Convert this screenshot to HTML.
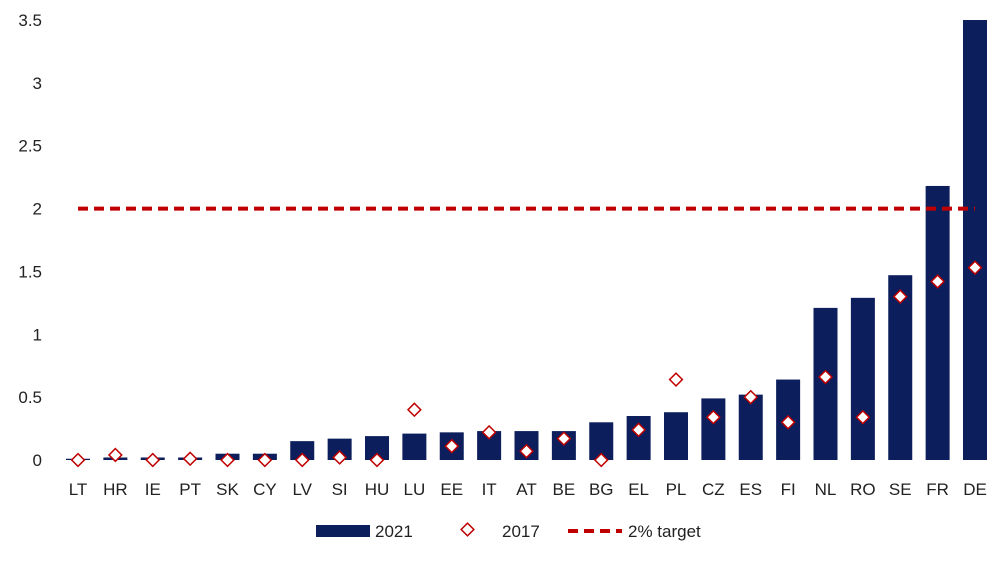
<!DOCTYPE html>
<html><head><meta charset="utf-8"><style>
body{margin:0;background:#fff;font-family:"Liberation Sans",Arial,sans-serif;}
svg text{font-family:"Liberation Sans",Arial,sans-serif;font-size:17px;fill:#222;}
</style></head><body>
<svg id="chart" width="1002" height="567" viewBox="0 0 1002 567" xmlns="http://www.w3.org/2000/svg">
<g id="yaxis"></g>
<g id="bars"></g>
<g id="target"></g>
<g id="points"></g>
<g id="xaxis"></g>
<g>
<rect x="316" y="525" width="54" height="12" fill="#0c1f5c"/>
<text x="375" y="537">2021</text>
<rect x="463" y="525" width="9" height="9" fill="#fff" stroke="#c00000" stroke-width="1.5" transform="rotate(45 467.5 529.5)"/>
<text x="502" y="537">2017</text>
<line x1="568" y1="531" x2="622" y2="531" stroke="#c00000" stroke-width="4" stroke-dasharray="10,6"/>
<text x="628" y="537">2% target</text>
</g>
</svg>
<script>
const categories=["LT","HR","IE","PT","SK","CY","LV","SI","HU","LU","EE","IT","AT","BE","BG","EL","PL","CZ","ES","FI","NL","RO","SE","FR","DE"];
const values2021=[0.01,0.02,0.02,0.02,0.05,0.05,0.15,0.17,0.19,0.21,0.22,0.23,0.23,0.23,0.30,0.35,0.38,0.49,0.52,0.64,1.21,1.29,1.47,2.18,3.5];
const values2017=[0,0.04,0,0.01,0,0,0,0.02,0,0.40,0.11,0.22,0.07,0.17,0,0.24,0.64,0.34,0.50,0.30,0.66,0.34,1.30,1.42,1.53];
const target=[2];
const yTicks=[0,0.5,1,1.5,2,2.5,3,3.5];
const yTickLabels=["0","0.5","1","1.5","2","2.5","3","3.5"];
const NS="http://www.w3.org/2000/svg";
const y=v=>460-v*125.71;
const x=i=>78+i*37.375;
function mk(t,a,p){const e=document.createElementNS(NS,t);for(const k in a)e.setAttribute(k,a[k]);p.appendChild(e);return e;}
const ya=document.getElementById('yaxis');
yTicks.forEach((v,i)=>{const t=mk('text',{x:42,y:y(v)+6,'text-anchor':'end'},ya);t.textContent=yTickLabels[i];

});
const xa=document.getElementById('xaxis');
categories.forEach((c,i)=>{const t=mk('text',{x:x(i),y:495,'text-anchor':'middle'},xa);t.textContent=c;

});
const bg=document.getElementById('bars');
values2021.forEach((v,i)=>{const r=mk('rect',{x:x(i)-12,y:y(v),width:24,height:460-y(v),fill:'#0c1f5c'},bg);

});
const tg=document.getElementById('target');
const l=mk('line',{x1:x(0),x2:x(categories.length-1),y1:y(target[0]),y2:y(target[0]),stroke:'#c00000','stroke-width':4,'stroke-dasharray':'10,6'},tg);


const pg=document.getElementById('points');
values2017.forEach((v,i)=>{const cx=x(i),cy=y(v);const r=mk('rect',{x:cx-4.5,y:cy-4.5,width:9,height:9,fill:'#fff',stroke:'#c00000','stroke-width':1.5,transform:`rotate(45 ${cx} ${cy})`},pg);

});
</script>
</body></html>
